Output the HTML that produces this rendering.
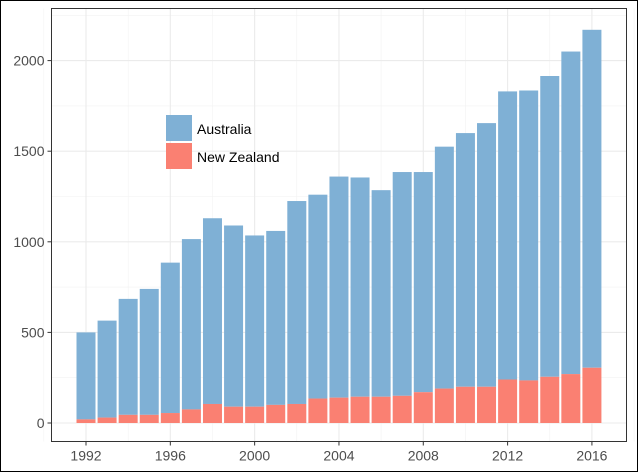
<!DOCTYPE html>
<html><head><meta charset="utf-8"><style>
html,body{margin:0;padding:0;background:#fff;}
svg{display:block;font-family:"Liberation Sans",sans-serif;}
</style></head><body>
<svg id="chart" width="638" height="472">
<rect x="0.5" y="0.5" width="637" height="471" fill="#fff" stroke="#000"/>
<g id="grid"></g>
<g id="bars"></g>
<rect x="51.5" y="8.5" width="575" height="433" fill="none" stroke="#333" stroke-width="1"/>
<g id="axes"></g>
<g>
<rect x="166" y="115" width="26" height="26" fill="#7fb0d5"/>
<text x="197" y="134" font-size="14" fill="#000">Australia</text>
<rect x="166" y="143" width="26" height="26" fill="#fa8072"/>
<text x="197" y="162" font-size="14" fill="#000">New Zealand</text>
</g>
</svg>
<script>
const years=[1992,1993,1994,1995,1996,1997,1998,1999,2000,2001,2002,2003,2004,2005,2006,2007,2008,2009,2010,2011,2012,2013,2014,2015,2016];
const totals=[500,565,685,740,885,1015,1130,1090,1035,1060,1225,1260,1360,1355,1285,1385,1385,1525,1600,1655,1830,1835,1915,2050,2170];
const nz=[20,30,45,45,55,75,105,90,90,100,105,135,140,145,145,150,170,190,200,200,240,235,255,270,305];
const xTicks=[1992,1996,2000,2004,2008,2012,2016];
const yTicks=[0,500,1000,1500,2000];
const NS="http://www.w3.org/2000/svg";
const X=y=>86+(y-1992)*21.08;
const Y=v=>423-v*(90.6/500);
const L=51.5,R=626.5,T=8.5,B=441.5;
function mk(t,a,p){const e=document.createElementNS(NS,t);for(const k in a)e.setAttribute(k,a[k]);p.appendChild(e);return e;}
const grid=document.getElementById('grid'),bars=document.getElementById('bars'),axes=document.getElementById('axes');
// minor grid
for(let v=250;v<=2250;v+=500){const g=mk('line',{x1:L,x2:R,y1:Y(v),y2:Y(v),stroke:'#f2f2f2','stroke-width':0.6},grid);}
for(let yr=1990;yr<=2018;yr+=4){const g=mk('line',{x1:X(yr),x2:X(yr),y1:T,y2:B,stroke:'#f2f2f2','stroke-width':0.6},grid);}
yTicks.forEach(v=>{const g=mk('line',{x1:L,x2:R,y1:Y(v),y2:Y(v),stroke:'#ebebeb','stroke-width':1.1},grid);
const t=mk('line',{x1:L-4,x2:L,y1:Y(v),y2:Y(v),stroke:'#333'},axes);
const l=mk('text',{x:L-7,y:Y(v)+5,'text-anchor':'end','font-size':14,fill:'#4d4d4d'},axes);l.textContent=v;});
xTicks.forEach(v=>{const g=mk('line',{x1:X(v),x2:X(v),y1:T,y2:B,stroke:'#ebebeb','stroke-width':1.1},grid);
const t=mk('line',{x1:X(v),x2:X(v),y1:B,y2:B+4,stroke:'#333'},axes);
const l=mk('text',{x:X(v),y:B+19,'text-anchor':'middle','font-size':14,fill:'#4d4d4d'},axes);l.textContent=v;});
const w=19;
years.forEach((yr,i)=>{
const a=mk('rect',{x:X(yr)-w/2,y:Y(totals[i]),width:w,height:Y(nz[i])-Y(totals[i]),fill:'#7fb0d5'},bars);

const n=mk('rect',{x:X(yr)-w/2,y:Y(nz[i]),width:w,height:Y(0)-Y(nz[i]),fill:'#fa8072'},bars);

});
</script>
</body></html>
